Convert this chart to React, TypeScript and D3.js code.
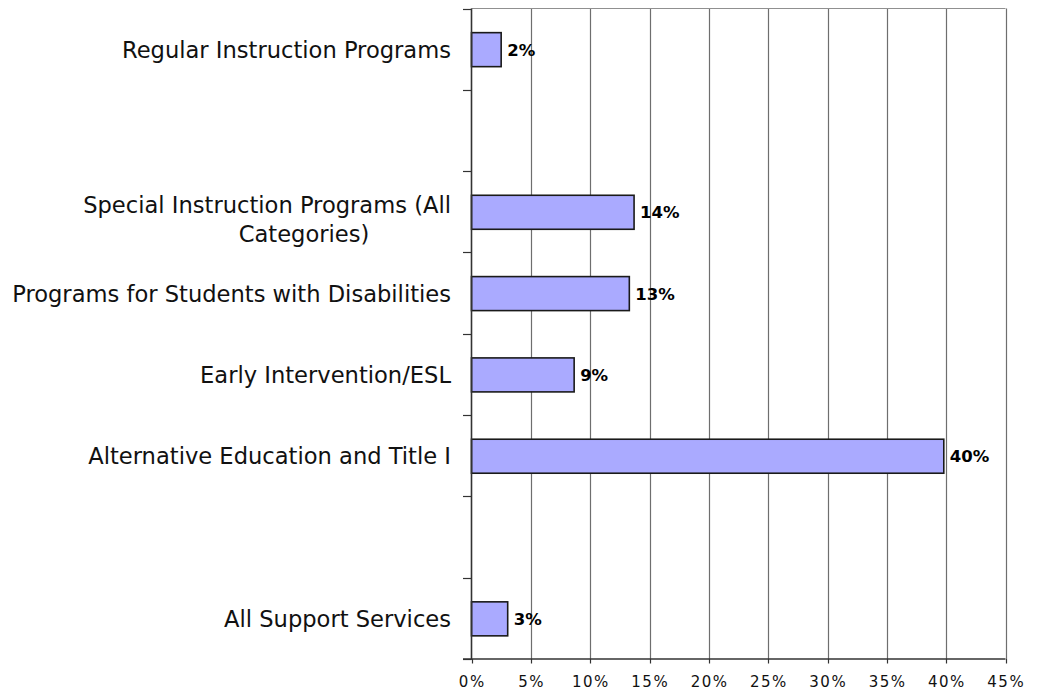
import React from "react";
import * as d3 from "d3";

const categories: string[] = [
  "Regular Instruction Programs",
  "",
  "Special Instruction Programs (All Categories)",
  "Programs for Students with Disabilities",
  "Early Intervention/ESL",
  "Alternative Education and Title I",
  " ",
  "All Support Services",
];
const values: (number | null)[] = [2.5, null, 13.7, 13.3, 8.65, 39.8, null, 3.05];
const valueLabels: string[] = ["2%", "", "14%", "13%", "9%", "40%", "", "3%"];
const xTicks: number[] = [0, 5, 10, 15, 20, 25, 30, 35, 40, 45];

const W = 1037;
const H = 691;
const left = 471.5;
const right = 1005.5;
const top = 8.5;
const bottom = 659;
const FONT = "'DejaVu Sans', Verdana, sans-serif";

export default function App() {
  const x = d3.scaleLinear().domain([0, 45]).range([left, right]);
  const keys = categories.map((_, i) => String(i));
  const y = d3.scaleBand<string>().domain(keys).range([top, bottom]).paddingInner(0).paddingOuter(0);
  const bw = y.bandwidth();
  const barH = 34;
  const boundaries = d3.range(categories.length + 1).map((i) => top + i * bw);

  return (
    <svg width={W} height={H} style={{ position: "absolute", left: 0, top: 0, background: "#fff" }}>
      {/* gridlines */}
      {xTicks.slice(1).map((t) => (
        <line key={"g" + t} x1={Math.round(x(t)) + 0.5} x2={Math.round(x(t)) + 0.5} y1={top} y2={bottom} stroke="#6e6e6e" strokeWidth={1.2} />
      ))}
      <line x1={left} x2={right} y1={top} y2={top} stroke="#909090" strokeWidth={1.2} />
      {/* bars */}
      {values.map((v, i) =>
        v == null ? null : (
          <g key={"b" + i}>
            <rect
              x={x(0)}
              y={(y(String(i)) as number) + bw / 2 - barH / 2 + 0.5}
              width={x(v) - x(0)}
              height={barH}
              fill="#AAAAFF"
              stroke="#1a1a1a"
              strokeWidth={1.6}
            />
            <text
              x={x(v) + 6}
              y={(y(String(i)) as number) + bw / 2 + 6.5}
              fontFamily={FONT}
              fontWeight="bold"
              fontSize={16.5}
              fill="#000"
            >
              {valueLabels[i]}
            </text>
          </g>
        )
      )}
      {/* y axis */}
      <line x1={left} x2={left} y1={top} y2={bottom + 0.5} stroke="#333" strokeWidth={1.6} />
      {boundaries.map((b, i) => (
        <line key={"yt" + i} x1={463} x2={left} y1={Math.round(b) + 0.5} y2={Math.round(b) + 0.5} stroke="#333" strokeWidth={1.2} />
      ))}
      {/* x axis */}
      <line x1={463} x2={right} y1={bottom} y2={bottom} stroke="#333" strokeWidth={1.6} />
      {xTicks.map((t) => (
        <g key={"xt" + t}>
          <line x1={Math.round(x(t)) + 0.5} x2={Math.round(x(t)) + 0.5} y1={bottom} y2={bottom + 4.5} stroke="#333" strokeWidth={1.2} />
          <text x={x(t) + 0.75} y={bottom + 27.5} textAnchor="middle" fontFamily={FONT} fontSize={15} letterSpacing={1.5} fill="#111">
            {t + "%"}
          </text>
        </g>
      ))}
      {/* category labels */}
      {categories.map((c, i) => {
        const cy = (y(String(i)) as number) + bw / 2;
        if (!c.trim()) return null;
        if (i === 2) {
          const parts = ["Special Instruction Programs (All", "Categories)"];
          return (
            <g key={"c" + i} fontFamily={FONT} fontSize={22.6} fill="#111">
              <text x={451} y={cy + 1} textAnchor="end">{parts[0]}</text>
              <text x={304} y={cy + 30} textAnchor="middle">{parts[1]}</text>
            </g>
          );
        }
        return (
          <text key={"c" + i} x={451} y={cy + 8.5} textAnchor="end" fontFamily={FONT} fontSize={22.6} fill="#111">
            {c}
          </text>
        );
      })}
    </svg>
  );
}
